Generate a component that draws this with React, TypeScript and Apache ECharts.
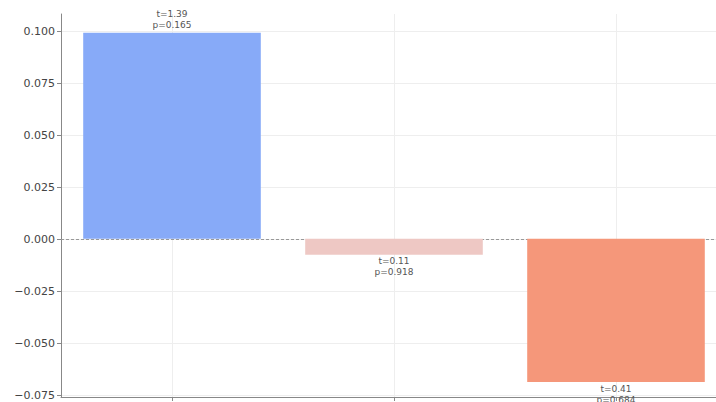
import React, { useEffect, useRef } from "react";
import * as echarts from "echarts";

// Group effects with their test statistics
const categories = ["A", "B", "C"];
const effects = [0.099, -0.0077, -0.0688];
const tStats = ["1.39", "0.11", "0.41"];
const pValues = ["0.165", "0.918", "0.684"];
const barColors = ["#87aaf8", "#eec8c4", "#f5977a"];
const yTicks = { min: -0.075, max: 0.1, step: 0.025 };

const FONT = "DejaVu Sans, Liberation Sans, sans-serif";

// The plot runs slightly past the right edge of the visible frame
const CHART_W = 727;
const VIEW_W = 716;
const VIEW_H = 402;

export default function App() {
  const ref = useRef<HTMLDivElement>(null);

  useEffect(() => {
    if (!ref.current) return;
    const chart = echarts.init(ref.current, null, { renderer: "svg" });

    const fmt = (v: number) => {
      const s = Math.abs(v).toFixed(3);
      return v < -1e-9 ? "\u2212" + s : s;
    };

    chart.setOption({
      animation: false,
      backgroundColor: "#ffffff",
      grid: [
        // plotting area with spines
        { left: 61, right: 0, top: 14, bottom: 5, containLabel: false },
        // tick labels and horizontal grid
        { left: 61, right: 0, top: 31, bottom: 7, containLabel: false },
      ],
      xAxis: [
        {
          type: "category",
          gridIndex: 0,
          data: categories,
          axisLine: { show: true, onZero: false, lineStyle: { color: "#888", width: 1 } },
          axisTick: { show: true, alignWithLabel: true, length: 4, lineStyle: { color: "#888" } },
          axisLabel: { show: false },
          splitLine: { show: false },
        },
        {
          type: "category",
          gridIndex: 1,
          data: categories,
          show: false,
        },
      ],
      yAxis: [
        {
          type: "value",
          gridIndex: 0,
          min: -0.076,
          max: 0.108,
          axisLine: { show: true, lineStyle: { color: "#888", width: 1 } },
          axisTick: { show: false },
          axisLabel: { show: false },
          splitLine: { show: false },
        },
        {
          type: "value",
          gridIndex: 1,
          min: yTicks.min,
          max: yTicks.max,
          interval: yTicks.step,
          axisLine: { show: false },
          axisTick: { show: true, length: 4, lineStyle: { color: "#888" } },
          axisLabel: {
            show: true,
            margin: 6,
            color: "#444",
            fontFamily: FONT,
            fontSize: 11,
            formatter: (v: number) => fmt(v),
          },
          splitLine: { show: true, lineStyle: { color: "#eeeeee", width: 1 } },
        },
      ],
      series: [
        {
          type: "bar",
          xAxisIndex: 0,
          yAxisIndex: 0,
          barWidth: "80%",
          data: effects.map((v, i) => ({
            value: v,
            itemStyle: { color: barColors[i] },
            label: {
              show: true,
              position: v >= 0 ? "top" : "bottom",
              distance: v >= 0 ? 2 : 1,
              formatter: `t=${tStats[i]}\np=${pValues[i]}`,
              color: "#555",
              fontFamily: FONT,
              fontSize: 9,
              lineHeight: 11,
            },
          })),
          markLine: {
            silent: true,
            symbol: "none",
            label: { show: false },
            z: 1,
            data: [
              ...categories.map((c) => ({
                xAxis: c,
                lineStyle: { color: "#eeeeee", width: 1, type: "solid" },
              })),
              {
                yAxis: 0,
                lineStyle: { color: "#999", width: 1, type: [3, 2] },
              },
            ],
          },
        },
      ],
    });

    return () => chart.dispose();
  }, []);

  return (
    <div
      style={{
        width: VIEW_W,
        height: VIEW_H,
        position: "absolute",
        left: 0,
        top: 0,
        overflow: "hidden",
      }}
    >
      <div ref={ref} style={{ width: CHART_W, height: VIEW_H }} />
    </div>
  );
}
